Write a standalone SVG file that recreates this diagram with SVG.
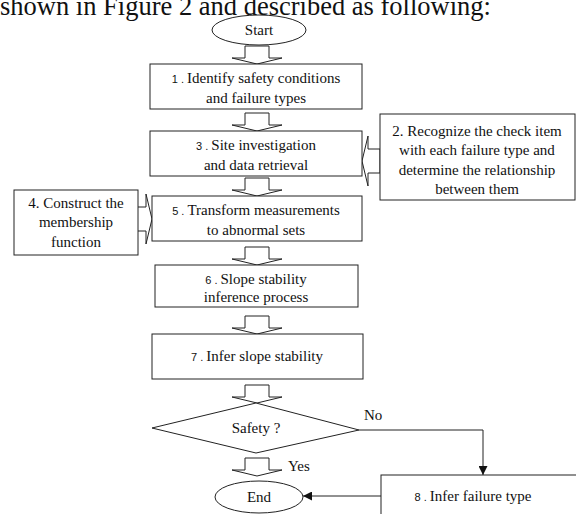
<svg xmlns="http://www.w3.org/2000/svg" width="576" height="514" viewBox="0 0 576 514">
  <defs>
    <style>
      .shape { fill: #fff; stroke: #222; stroke-width: 1; }
      .block { fill: #fff; stroke: #222; stroke-width: 1; stroke-linejoin: miter; }
      .line { fill: none; stroke: #222; stroke-width: 1; }
    </style>
    <marker id="arrow" viewBox="0 0 10 10" refX="10" refY="5" markerWidth="9" markerHeight="9" markerUnits="userSpaceOnUse" orient="auto">
      <path d="M0,0 L10,5 L0,10 Z" fill="#111"/>
    </marker>
    <!-- hollow block arrow pointing down, tip at (0,0) -->
    <path id="blockDown" d="M-12,-18 L12,-18 L12,-6 L25,-6 L0,0 L-25,-6 L-12,-6 Z"/>
  </defs>

  <rect width="576" height="514" fill="#fff"/>

  <text x="0" y="15" font-family="'Liberation Serif', 'Times New Roman', serif" font-size="26.5" fill="#111">shown in Figure 2 and described as following:</text>

  <g font-family="'Liberation Serif', 'Times New Roman', serif" font-size="15" fill="#111" text-anchor="middle">

  <g id="connectors">
    <use href="#blockDown" class="block" transform="translate(257,64)"/>
    <use href="#blockDown" class="block" transform="translate(257,131)"/>
    <use href="#blockDown" class="block" transform="translate(257,196)"/>
    <use href="#blockDown" class="block" transform="translate(257,265)"/>
    <use href="#blockDown" class="block" transform="translate(257,334)"/>
    <use href="#blockDown" class="block" transform="translate(257,403)"/>
    <use href="#blockDown" class="block" transform="translate(257,476)"/>
    <!-- side inputs -->
    <use href="#blockDown" class="block" transform="translate(362,161) rotate(90)"/>
    <use href="#blockDown" class="block" transform="translate(152,219) rotate(-90)"/>
    <!-- No branch -->
    <polyline class="line" points="359,430 483,430 483,475" marker-end="url(#arrow)"/>
    <line class="line" x1="381" y1="496" x2="303" y2="496" marker-end="url(#arrow)"/>
    <text x="364" y="420" text-anchor="start">No</text>
    <text x="288" y="471" text-anchor="start">Yes</text>
  </g>

  <g id="start">
    <ellipse class="shape" cx="259" cy="30" rx="47" ry="15"/>
    <text x="259" y="35">Start</text>
  </g>

  <g id="step1">
    <rect class="shape" x="150" y="64" width="212" height="45"/>
    <text x="256" y="83"><tspan font-family="'Liberation Sans', Arial, sans-serif" font-size="11">1 .  </tspan>Identify safety conditions</text>
    <text x="256" y="103">and failure types</text>
  </g>

  <g id="step2">
    <rect class="shape" x="380" y="114" width="195" height="86"/>
    <text x="477" y="136">2. Recognize the check item</text>
    <text x="477" y="155">with each failure type and</text>
    <text x="477" y="175">determine the relationship</text>
    <text x="477" y="194">between them</text>
  </g>

  <g id="step3">
    <rect class="shape" x="150" y="131" width="212" height="45"/>
    <text x="256" y="150"><tspan font-family="'Liberation Sans', Arial, sans-serif" font-size="11">3 .  </tspan>Site investigation</text>
    <text x="256" y="170">and data retrieval</text>
  </g>

  <g id="step4">
    <rect class="shape" x="14" y="190" width="124" height="65"/>
    <text x="76" y="208">4. Construct the</text>
    <text x="76" y="227">membership</text>
    <text x="76" y="247">function</text>
  </g>

  <g id="step5">
    <rect class="shape" x="152" y="196" width="210" height="45"/>
    <text x="256" y="215"><tspan font-family="'Liberation Sans', Arial, sans-serif" font-size="11">5 .  </tspan>Transform measurements</text>
    <text x="256" y="235">to abnormal sets</text>
  </g>

  <g id="step6">
    <rect class="shape" x="155" y="265" width="203" height="42"/>
    <text x="256" y="284"><tspan font-family="'Liberation Sans', Arial, sans-serif" font-size="11">6 .  </tspan>Slope stability</text>
    <text x="256" y="302">inference process</text>
  </g>

  <g id="step7">
    <rect class="shape" x="152" y="334" width="211" height="45"/>
    <text x="257" y="361"><tspan font-family="'Liberation Sans', Arial, sans-serif" font-size="11">7 .  </tspan>Infer  slope stability</text>
  </g>

  <g id="decision">
    <polygon class="shape" points="152,428 256,403 359,430 256,453"/>
    <text x="256" y="433">Safety ?</text>
  </g>

  <g id="end">
    <ellipse class="shape" cx="259" cy="497" rx="44" ry="16"/>
    <text x="259" y="502">End</text>
  </g>

  <g id="step8">
    <rect class="shape" x="381" y="475" width="220" height="60"/>
    <text x="473" y="501"><tspan font-family="'Liberation Sans', Arial, sans-serif" font-size="11">8 .  </tspan>Infer  failure type</text>
  </g>

  </g>
</svg>
